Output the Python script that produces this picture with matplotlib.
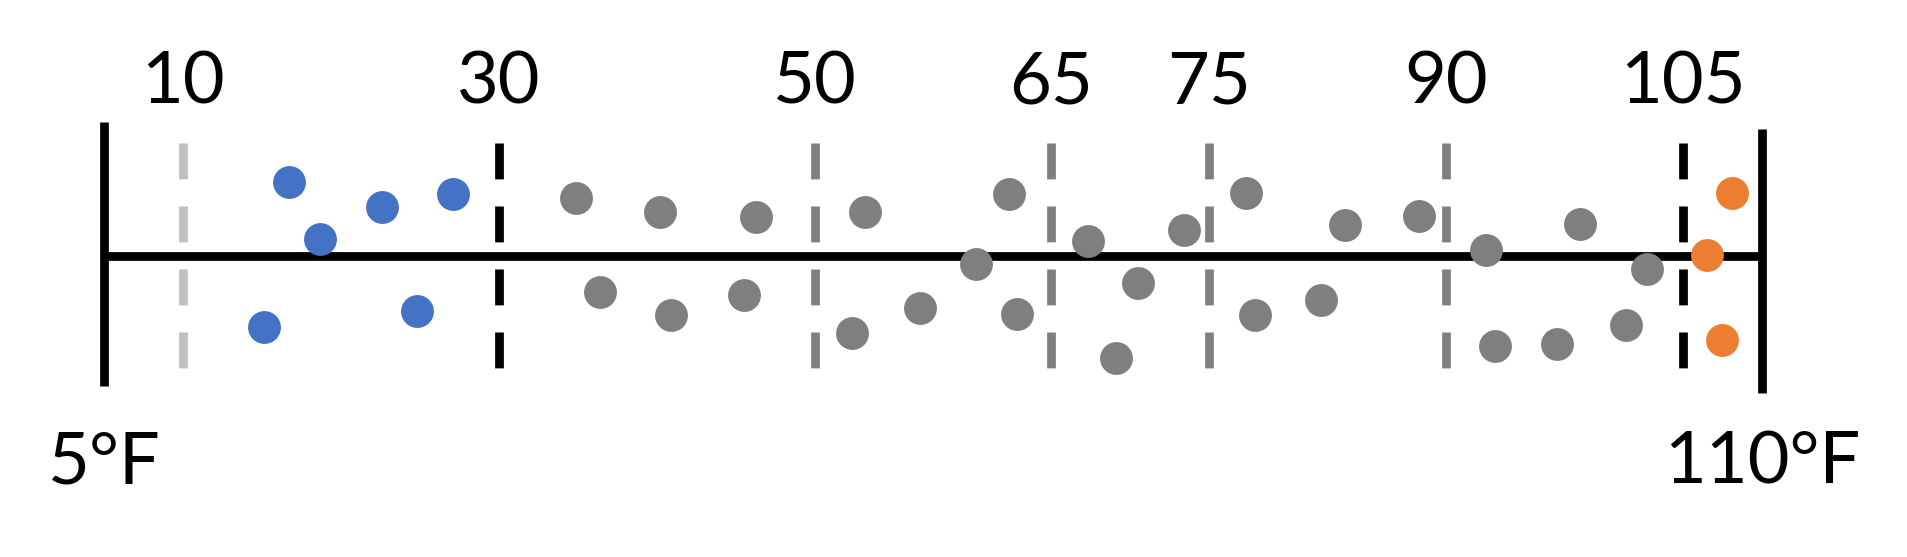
import matplotlib.pyplot as plt

# temperatures (°F) and vertical jitter of each dot
cold_temps = [16.7, 18.7, 22.6, 27.1, 15.1, 24.8]
cold_jitter = [0.74, 0.17, 0.49, 0.62, -0.71, -0.55]

mild_temps = [34.9, 36.4, 40.2, 46.3, 53.2, 62.3, 67.3, 73.4, 77.3,
              40.9, 45.5, 52.4, 56.7, 60.2, 62.8, 70.5, 69.1, 77.9,
              83.6, 88.3, 92.5, 98.5, 102.7, 82.1, 93.1, 97.0, 101.4]
mild_jitter = [0.58, -0.36, 0.44, 0.39, 0.44, 0.62, 0.15, 0.26, 0.63,
               -0.59, -0.39, -0.77, -0.52, -0.08, -0.58, -0.27, -1.02, -0.59,
               0.31, 0.40, 0.06, 0.32, -0.13, -0.44, -0.90, -0.88, -0.69]

hot_temps = [108.1, 106.5, 107.5]
hot_jitter = [0.63, 0.01, -0.84]

thresholds = [10, 30, 50, 65, 75, 90, 105]
threshold_labels = ['10', '30', '50', '65', '75', '90', '105']
range_min, range_max = 5, 110
range_labels = ['5°F', '110°F']

threshold_colors = ['#BFBFBF', 'black', '#7F7F7F', '#7F7F7F', '#7F7F7F', '#7F7F7F', 'black']

plt.rcParams['font.family'] = ['Lato', 'DejaVu Sans']

fig = plt.figure(figsize=(19.08, 5.57), dpi=100)
ax = fig.add_axes([0, 0, 1, 1])
ax.set_xlim(-1.59, 119.25)
ax.set_ylim(-3.01, 2.56)
ax.axis('off')

lw = 6.3
# main number line and end bars
ax.plot([range_min, range_max], [0, 0], color='black', lw=lw, solid_capstyle='butt', zorder=2)
ax.plot([range_min, range_min], [1.34, -1.30], color='black', lw=lw, solid_capstyle='butt', zorder=2)
ax.plot([range_max, range_max], [1.27, -1.37], color='black', lw=lw, solid_capstyle='butt', zorder=2)

# dashed threshold lines
for t, c, lab in zip(thresholds, threshold_colors, threshold_labels):
    ax.plot([t, t], [1.13, -1.14], color=c, lw=lw, dashes=(4.1, 3.1),
            dash_capstyle='butt', zorder=1)
    ax.text(t, 1.53, lab, ha='center', va='baseline', fontsize=52)

for t, lab in zip([range_min, range_max], range_labels):
    ax.text(t, -2.28, lab, ha='center', va='baseline', fontsize=52)

s = 560
ax.scatter(cold_temps, cold_jitter, s=s, color='#4472C4', linewidths=0, zorder=3)
ax.scatter(mild_temps, mild_jitter, s=s, color='#7F7F7F', linewidths=0, zorder=3)
ax.scatter(hot_temps, hot_jitter, s=s, color='#ED7D31', linewidths=0, zorder=3)

fig.savefig('out.png', dpi=100, facecolor='white')
